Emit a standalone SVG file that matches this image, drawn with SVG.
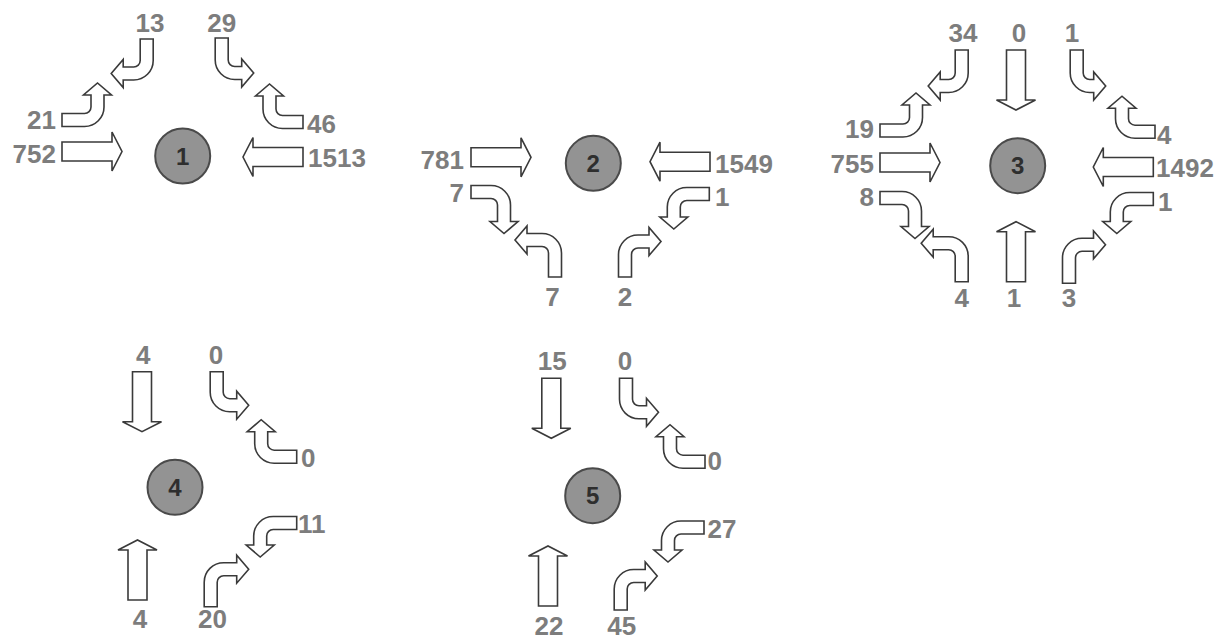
<svg xmlns="http://www.w3.org/2000/svg" xmlns:xlink="http://www.w3.org/1999/xlink" width="1228" height="641" viewBox="0 0 1228 641">
<style>
.ar{fill:#fff;stroke:#3a3a3a;stroke-width:1.6;stroke-linejoin:miter}
.nd{fill:#939393;stroke:#4a4a4a;stroke-width:2}
.nl{font-family:"Liberation Sans",Arial,sans-serif;font-weight:bold;font-size:24px;fill:#2e2e2e;text-anchor:middle}
.v{font-family:"Liberation Sans",Arial,sans-serif;font-weight:bold;font-size:26px;fill:#7d7d7d}
.m{text-anchor:middle}
.e{text-anchor:end}
</style>
<defs>
<path id="st" d="M0,-9.5 H50 V-19.5 L60,0 L50,19.5 V9.5 H0 Z"/>
</defs>
<rect width="1228" height="641" fill="#fff"/>

<g id="int1">
<circle class="nd" cx="182.7" cy="156" r="27.5"/>
<text class="nl" x="182.7" y="164.5">1</text>
<g class="ar">
<use xlink:href="#st" transform="matrix(1 0 0 1 62 151.5)"/>
<use xlink:href="#st" transform="matrix(-1 0 0 -1 303 157)"/>
<path transform="matrix(1 0 0 -1 62 120)" d="M0,6.5 H22.5 A6.5,6.5 0 0 1 29,13 V25 H21.5 L35.5,37 L49.5,25 H42 V13 A19.5,19.5 0 0 0 22.5,-6.5 H0 Z"/>
<path transform="matrix(0 1 -1 0 146.7 39)" d="M0,6.5 H21.5 A6.5,6.5 0 0 1 28,13 V23.5 H20.5 L34.5,35.5 L48.5,23.5 H41 V13 A19.5,19.5 0 0 0 21.5,-6.5 H0 Z"/>
<path transform="matrix(0 1 1 0 221.7 38)" d="M0,6.5 H22 A6.5,6.5 0 0 1 28.5,13 V20 H21 L35,32 L49,20 H41.5 V13 A19.5,19.5 0 0 0 22,-6.5 H0 Z"/>
<path transform="matrix(-1 0 0 -1 303 122)" d="M0,6.5 H20.5 A6.5,6.5 0 0 1 27,13 V26 H19.5 L33.5,38 L47.5,26 H40 V13 A19.5,19.5 0 0 0 20.5,-6.5 H0 Z"/>
</g>
<text class="v m" x="150" y="32">13</text>
<text class="v m" x="221.7" y="32">29</text>
<text class="v e" x="56" y="129">21</text>
<text class="v e" x="56" y="163">752</text>
<text class="v" x="307" y="133">46</text>
<text class="v" x="308" y="167">1513</text>
</g>

<g id="int2">
<circle class="nd" cx="593.3" cy="163.3" r="27.5"/>
<text class="nl" x="593.3" y="171.8">2</text>
<g class="ar">
<use xlink:href="#st" transform="matrix(1 0 0 1 471 157.3)"/>
<use xlink:href="#st" transform="matrix(-1 0 0 -1 710 161.7)"/>
<path transform="matrix(1 0 0 1 471 192)" d="M0,6.5 H20 A6.5,6.5 0 0 1 26.5,13 V29.5 H19 L33,41.5 L47,29.5 H39.5 V13 A19.5,19.5 0 0 0 20,-6.5 H0 Z"/>
<path transform="matrix(0 -1 -1 0 555 277)" d="M0,6.5 H24 A6.5,6.5 0 0 1 30.5,13 V28 H23 L37,40 L51,28 H43.5 V13 A19.5,19.5 0 0 0 24,-6.5 H0 Z"/>
<path transform="matrix(-1 0 0 1 709.3 194)" d="M0,6.5 H22.5 A6.5,6.5 0 0 1 29,13 V23 H21.5 L35.5,35 L49.5,23 H42 V13 A19.5,19.5 0 0 0 22.5,-6.5 H0 Z"/>
<path transform="matrix(0 -1 1 0 625 277)" d="M0,6.5 H22.5 A6.5,6.5 0 0 1 29,13 V24 H21.5 L35.5,36 L49.5,24 H42 V13 A19.5,19.5 0 0 0 22.5,-6.5 H0 Z"/>
</g>
<text class="v e" x="464" y="169">781</text>
<text class="v" x="715" y="172.5">1549</text>
<text class="v e" x="464" y="201.5">7</text>
<text class="v" x="715" y="206">1</text>
<text class="v m" x="552.5" y="306">7</text>
<text class="v m" x="625" y="306">2</text>
</g>

<g id="int3">
<circle class="nd" cx="1017.7" cy="165.7" r="27.5"/>
<text class="nl" x="1017.7" y="174.2">3</text>
<g class="ar">
<use xlink:href="#st" transform="matrix(1 0 0 1 880 162.5)"/>
<use xlink:href="#st" transform="matrix(-1 0 0 -1 1153.3 167)"/>
<use xlink:href="#st" transform="matrix(0 1 -1 0 1016 50)"/>
<use xlink:href="#st" transform="matrix(0 -1 1 0 1016 281.7)"/>
<path transform="matrix(0 1 -1 0 961.7 50)" d="M0,6.5 H23 A6.5,6.5 0 0 1 29.5,13 V21.5 H22 L36,33.5 L50,21.5 H42.5 V13 A19.5,19.5 0 0 0 23,-6.5 H0 Z"/>
<path transform="matrix(0 1 1 0 1076.7 50)" d="M0,6.5 H23 A6.5,6.5 0 0 1 29.5,13 V17 H22 L36,29 L50,17 H42.5 V13 A19.5,19.5 0 0 0 23,-6.5 H0 Z"/>
<path transform="matrix(-1 0 0 -1 1155 131.7)" d="M0,6.5 H20 A6.5,6.5 0 0 1 26.5,13 V23.5 H19 L33,35.5 L47,23.5 H39.5 V13 A19.5,19.5 0 0 0 20,-6.5 H0 Z"/>
<path transform="matrix(-1 0 0 1 1153.3 199)" d="M0,6.5 H23.5 A6.5,6.5 0 0 1 30,13 V22.5 H22.5 L36.5,34.5 L50.5,22.5 H43 V13 A19.5,19.5 0 0 0 23.5,-6.5 H0 Z"/>
<path transform="matrix(0 -1 1 0 1069 283.3)" d="M0,6.5 H25.5 A6.5,6.5 0 0 1 32,13 V24.5 H24.5 L38.5,36.5 L52.5,24.5 H45 V13 A19.5,19.5 0 0 0 25.5,-6.5 H0 Z"/>
<path transform="matrix(0 -1 -1 0 961.7 281.7)" d="M0,6.5 H25.5 A6.5,6.5 0 0 1 32,13 V28.5 H24.5 L38.5,40.5 L52.5,28.5 H45 V13 A19.5,19.5 0 0 0 25.5,-6.5 H0 Z"/>
<path transform="matrix(1 0 0 1 880 198)" d="M0,6.5 H22 A6.5,6.5 0 0 1 28.5,13 V28.5 H21 L35,40.5 L49,28.5 H41.5 V13 A19.5,19.5 0 0 0 22,-6.5 H0 Z"/>
<path transform="matrix(1 0 0 -1 880 130.5)" d="M0,6.5 H23 A6.5,6.5 0 0 1 29.5,13 V25.5 H22 L36,37.5 L50,25.5 H42.5 V13 A19.5,19.5 0 0 0 23,-6.5 H0 Z"/>
</g>
<text class="v m" x="963" y="41.7">34</text>
<text class="v m" x="1019" y="41.7">0</text>
<text class="v m" x="1072" y="41.7">1</text>
<text class="v e" x="874" y="138">19</text>
<text class="v e" x="874" y="173">755</text>
<text class="v e" x="874" y="206">8</text>
<text class="v" x="1157" y="144">4</text>
<text class="v" x="1156" y="177">1492</text>
<text class="v" x="1158" y="211">1</text>
<text class="v m" x="961.7" y="307">4</text>
<text class="v m" x="1014" y="307">1</text>
<text class="v m" x="1069" y="307">3</text>
</g>

<g id="int4">
<circle class="nd" cx="175" cy="487.3" r="27.5"/>
<text class="nl" x="175" y="495.8">4</text>
<g class="ar">
<use xlink:href="#st" transform="matrix(0 1 -1 0 142 371.7)"/>
<use xlink:href="#st" transform="matrix(0 -1 1 0 137.5 600)"/>
<path transform="matrix(0 1 1 0 216.7 371.7)" d="M0,6.5 H20.5 A6.5,6.5 0 0 1 27,13 V20 H19.5 L33.5,32 L47.5,20 H40 V13 A19.5,19.5 0 0 0 20.5,-6.5 H0 Z"/>
<path transform="matrix(-1 0 0 -1 296.7 456.7)" d="M0,6.5 H22.5 A6.5,6.5 0 0 1 29,13 V25 H21.5 L35.5,37 L49.5,25 H42 V13 A19.5,19.5 0 0 0 22.5,-6.5 H0 Z"/>
<path transform="matrix(-1 0 0 1 296.7 523)" d="M0,6.5 H23.5 A6.5,6.5 0 0 1 30,13 V22 H22.5 L36.5,34 L50.5,22 H43 V13 A19.5,19.5 0 0 0 23.5,-6.5 H0 Z"/>
<path transform="matrix(0 -1 1 0 210.7 606.7)" d="M0,6.5 H24.5 A6.5,6.5 0 0 1 31,13 V26 H23.5 L37.5,38 L51.5,26 H44 V13 A19.5,19.5 0 0 0 24.5,-6.5 H0 Z"/>
</g>
<text class="v m" x="143.3" y="364">4</text>
<text class="v m" x="216" y="364">0</text>
<text class="v" x="301" y="466.7">0</text>
<text class="v" x="298" y="533">11</text>
<text class="v m" x="212.5" y="628">20</text>
<text class="v m" x="140" y="628">4</text>
</g>

<g id="int5">
<circle class="nd" cx="592.7" cy="495.7" r="27.5"/>
<text class="nl" x="592.7" y="504.2">5</text>
<g class="ar">
<use xlink:href="#st" transform="matrix(0 1 -1 0 551.3 378.3)"/>
<use xlink:href="#st" transform="matrix(0 -1 1 0 548 606)"/>
<path transform="matrix(0 1 1 0 626 378.3)" d="M0,6.5 H21 A6.5,6.5 0 0 1 27.5,13 V20.5 H20 L34,32.5 L48,20.5 H40.5 V13 A19.5,19.5 0 0 0 21,-6.5 H0 Z"/>
<path transform="matrix(-1 0 0 -1 705 461.7)" d="M0,6.5 H22 A6.5,6.5 0 0 1 28.5,13 V25 H21 L35,37 L49,25 H41.5 V13 A19.5,19.5 0 0 0 22,-6.5 H0 Z"/>
<path transform="matrix(-1 0 0 1 704 527.5)" d="M0,6.5 H23 A6.5,6.5 0 0 1 29.5,13 V22.5 H22 L36,34.5 L50,22.5 H42.5 V13 A19.5,19.5 0 0 0 23,-6.5 H0 Z"/>
<path transform="matrix(0 -1 1 0 620.7 610)" d="M0,6.5 H21 A6.5,6.5 0 0 1 27.5,13 V24.5 H20 L34,36.5 L48,24.5 H40.5 V13 A19.5,19.5 0 0 0 21,-6.5 H0 Z"/>
</g>
<text class="v m" x="552.3" y="370">15</text>
<text class="v m" x="625" y="370">0</text>
<text class="v" x="707.5" y="470">0</text>
<text class="v" x="707.5" y="538">27</text>
<text class="v m" x="621.7" y="635">45</text>
<text class="v m" x="549" y="635">22</text>
</g>
</svg>
